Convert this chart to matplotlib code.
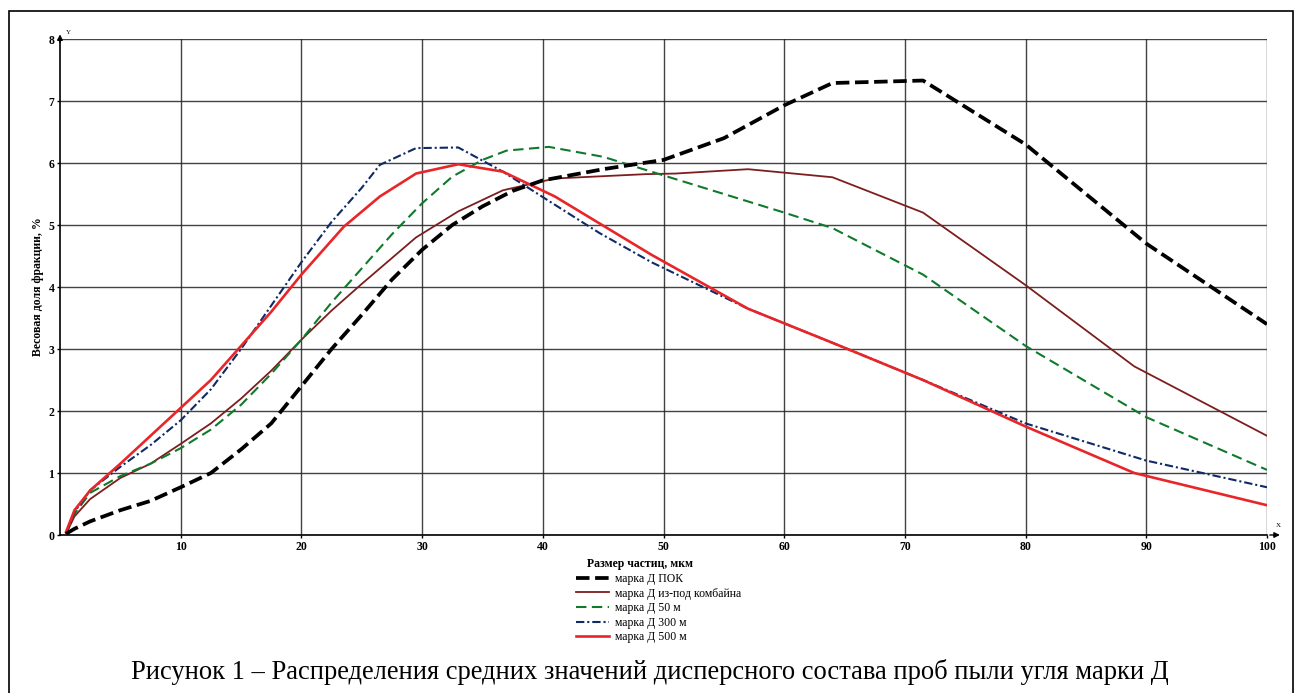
import matplotlib
matplotlib.use("Agg")
import matplotlib.pyplot as plt
from matplotlib.patches import Rectangle

plt.rcParams['font.family'] = ['Liberation Serif', 'DejaVu Serif']

# ---- data ----
pok_x = [0.5, 1.2, 2.5, 5, 7.5, 10, 12.5, 15, 17.5, 20, 22.5, 25, 27.5, 30, 32.5, 35, 37.5, 40, 45, 50, 55, 60, 64, 71.5, 80, 90, 100]
pok_y = [0.02, 0.1, 0.22, 0.40, 0.55, 0.77, 1.0, 1.38, 1.8, 2.4, 3.0, 3.55, 4.12, 4.6, 5.0, 5.3, 5.55, 5.72, 5.9, 6.05, 6.4, 6.93, 7.29, 7.33, 6.3, 4.7, 3.4]

komb_x = [0.5, 1.2, 2.5, 5, 7.5, 10, 12.5, 15, 17.5, 20, 22.5, 25, 26.5, 29.5, 33, 36.7, 41, 48.5, 51, 57, 64, 71.5, 80, 89, 100]
komb_y = [0.02, 0.3, 0.58, 0.92, 1.15, 1.47, 1.8, 2.2, 2.65, 3.15, 3.62, 4.05, 4.3, 4.8, 5.22, 5.56, 5.75, 5.82, 5.83, 5.9, 5.77, 5.2, 4.03, 2.72, 1.6]

m50_x = [0.5, 1.2, 2.5, 5, 7.5, 10, 12.5, 15, 17.5, 20, 22.5, 25, 27.5, 30, 32.5, 35, 37, 40.5, 45, 50, 55, 60, 64, 71.5, 80, 90, 100]
m50_y = [0.02, 0.34, 0.68, 0.95, 1.15, 1.4, 1.7, 2.1, 2.6, 3.15, 3.75, 4.3, 4.85, 5.35, 5.78, 6.05, 6.2, 6.26, 6.1, 5.8, 5.5, 5.2, 4.95, 4.2, 3.05, 1.9, 1.05]

m300_x = [0.5, 1.2, 2.5, 5, 7.5, 10, 12.5, 15, 17.5, 20, 22.5, 25, 26.5, 29.5, 33, 36.7, 40, 44.7, 49, 57, 64, 71.5, 80, 90, 100]
m300_y = [0.02, 0.37, 0.72, 1.1, 1.45, 1.85, 2.35, 3.0, 3.7, 4.4, 5.05, 5.6, 5.97, 6.24, 6.25, 5.86, 5.45, 4.87, 4.4, 3.65, 3.1, 2.5, 1.8, 1.2, 0.77]

m500_x = [0.5, 1.2, 2.5, 5, 7.5, 10, 12.5, 15, 17.5, 20, 23.5, 26.5, 29.5, 33, 36.7, 41, 49, 57, 64, 71.5, 80, 89, 100]
m500_y = [0.05, 0.4, 0.72, 1.15, 1.6, 2.05, 2.5, 3.05, 3.6, 4.2, 4.97, 5.46, 5.83, 5.98, 5.86, 5.46, 4.52, 3.65, 3.1, 2.5, 1.75, 1.0, 0.48]

labels = ['марка Д ПОК', 'марка Д из-под комбайна', 'марка Д 50 м', 'марка Д 300 м', 'марка Д 500 м']
x_ticks = [10, 20, 30, 40, 50, 60, 70, 80, 90, 100]
y_ticks = [0, 1, 2, 3, 4, 5, 6, 7, 8]

W, H = 1300, 693
fig = plt.figure(figsize=(13, 6.93), dpi=100)
ax = fig.add_axes([60 / W, 1 - 535 / H, (1267 - 60) / W, (535 - 39) / H])

ax.plot(pok_x, pok_y, color='black', lw=2.7, dashes=(3.6, 1.5), label=labels[0], zorder=5)
ax.plot(komb_x, komb_y, color='#7d1e1e', lw=1.3, label=labels[1], zorder=4)
ax.plot(m50_x, m50_y, color='#107a2c', lw=1.5, dashes=(5, 2.6), label=labels[2], zorder=4)
ax.plot(m300_x, m300_y, color='#0f2a66', lw=1.5, dashes=(4, 1.4, 1, 1.4), label=labels[3], zorder=4)
ax.plot(m500_x, m500_y, color='#e8262a', lw=1.9, label=labels[4], zorder=4)

ax.set_xlim(0, 100)
ax.set_ylim(0, 8)
ax.set_xticks(x_ticks)
ax.set_yticks(y_ticks)
ax.grid(True, color='#222222', lw=1.0, alpha=0.85)
for s in ['top', 'right']:
    ax.spines[s].set_visible(False)
for s in ['left', 'bottom']:
    ax.spines[s].set_linewidth(1.2)
ax.tick_params(axis='both', length=2, width=1, labelsize=8.5, pad=2)
for t in ax.get_xticklabels() + ax.get_yticklabels():
    t.set_fontweight('bold')

# axis arrows
ax.annotate('', xy=(0, 8.12), xytext=(0, 7.9), xycoords='data', annotation_clip=False,
            arrowprops=dict(arrowstyle='-|>', color='black', lw=1, mutation_scale=8))
ax.text(0.5, 8.1, 'Y', fontsize=5, ha='left', va='center', clip_on=False)
ax.annotate('', xy=(101.3, 0), xytext=(100, 0), xycoords='data', annotation_clip=False,
            arrowprops=dict(arrowstyle='-|>', color='black', lw=1, mutation_scale=8))
ax.text(100.7, 0.12, 'X', fontsize=5, ha='left', va='bottom', clip_on=False)

fig.text(38 / W, 1 - 287 / H, 'Весовая доля фракции, %', rotation=90, ha='center', va='center',
         fontsize=8.5, fontweight='bold')
fig.text(640 / W, 1 - 564 / H, 'Размер частиц, мкм', ha='center', va='center',
         fontsize=8.5, fontweight='bold')

h, l = ax.get_legend_handles_labels()
fig.legend(h, l, loc='upper left', bbox_to_anchor=(576 / W, 1 - 573 / H), frameon=False,
           fontsize=8.5, handlelength=2.8, handletextpad=0.5, labelspacing=0.22,
           borderpad=0, borderaxespad=0)

fig.text(650 / W, 1 - 672 / H,
         'Рисунок 1 – Распределения средних значений дисперсного состава проб пыли угля марки Д',
         ha='center', va='center', fontsize=19.1)

fig.patches.append(Rectangle((9 / W, -0.02), (1293 - 9) / W, 1 - 11 / H + 0.02,
                             transform=fig.transFigure, fill=False, edgecolor='black', lw=1.2))

fig.savefig('out.png', dpi=100)
